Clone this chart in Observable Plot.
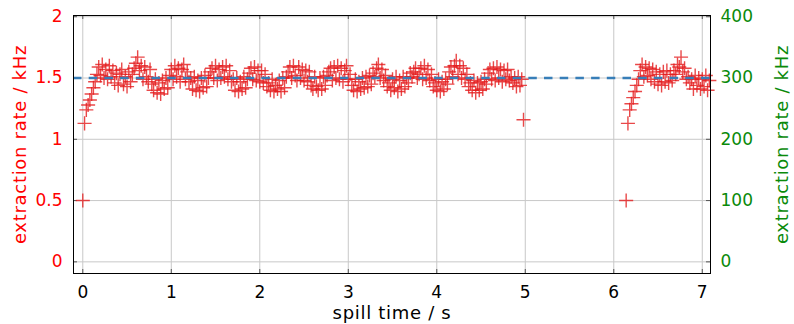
<!DOCTYPE html>
<html><head><meta charset="utf-8">
<script src="https://cdn.jsdelivr.net/npm/d3@7"></script>
<script src="https://cdn.jsdelivr.net/npm/@observablehq/plot@0.6"></script>
<style>html,body{margin:0;padding:0;background:#fff}</style>
</head><body><div id="chart"></div>
<script>
// spill sampling
const spill1Start = 0.00;
const spill2Start = 6.14;
const sampleStep = 0.02;

// extraction rate (kHz), spill 1 from t = 0.00 s
const spill1Rate = [
  0.50, 1.13, 1.24, 1.28, 1.32, 1.37, 1.42, 1.47, 1.53, 1.59,
  1.52, 1.61, 1.50, 1.57, 1.49, 1.60, 1.51, 1.56, 1.46, 1.54,
  1.44, 1.53, 1.57, 1.45, 1.51, 1.43, 1.55, 1.47, 1.53, 1.58,
  1.62, 1.67, 1.56, 1.60, 1.49, 1.59, 1.51, 1.47, 1.57, 1.45,
  1.40, 1.49, 1.38, 1.46, 1.37, 1.48, 1.41, 1.50, 1.42, 1.52,
  1.57, 1.49, 1.60, 1.51, 1.58, 1.47, 1.57, 1.61, 1.49, 1.55,
  1.47, 1.50, 1.41, 1.51, 1.40, 1.48, 1.39, 1.50, 1.42, 1.52,
  1.43, 1.50, 1.55, 1.58, 1.50, 1.60, 1.48, 1.57, 1.50, 1.59,
  1.51, 1.60, 1.49, 1.56, 1.47, 1.49, 1.40, 1.50, 1.39, 1.47,
  1.41, 1.51, 1.42, 1.49, 1.54, 1.58, 1.49, 1.59, 1.48, 1.56,
  1.47, 1.56, 1.46, 1.53, 1.43, 1.46, 1.40, 1.49, 1.39, 1.44,
  1.41, 1.48, 1.39, 1.50, 1.42, 1.51, 1.55, 1.59, 1.50, 1.60,
  1.52, 1.48, 1.59, 1.50, 1.57, 1.48, 1.56, 1.47, 1.55, 1.44,
  1.41, 1.51, 1.43, 1.40, 1.50, 1.41, 1.51, 1.44, 1.52, 1.55,
  1.58, 1.48, 1.59, 1.50, 1.60, 1.49, 1.58, 1.47, 1.56, 1.60,
  1.49, 1.53, 1.44, 1.40, 1.49, 1.39, 1.47, 1.41, 1.50, 1.42,
  1.51, 1.43, 1.52, 1.45, 1.54, 1.51, 1.58, 1.61, 1.50, 1.57,
  1.48, 1.52, 1.43, 1.46, 1.40, 1.49, 1.42, 1.51, 1.39, 1.48,
  1.41, 1.51, 1.43, 1.50, 1.46, 1.54, 1.51, 1.55, 1.58, 1.50,
  1.53, 1.58, 1.49, 1.60, 1.50, 1.57, 1.48, 1.53, 1.43, 1.46,
  1.40, 1.49, 1.39, 1.47, 1.41, 1.49, 1.45, 1.55, 1.59, 1.51,
  1.60, 1.64, 1.53, 1.60, 1.50, 1.58, 1.49, 1.53, 1.43, 1.46,
  1.40, 1.48, 1.38, 1.46, 1.40, 1.47, 1.41, 1.49, 1.45, 1.54,
  1.57, 1.49, 1.58, 1.48, 1.59, 1.50, 1.57, 1.47, 1.56, 1.49,
  1.57, 1.48, 1.51, 1.46, 1.50, 1.43, 1.51, 1.44, 1.49, 1.16
];

// extraction rate (kHz), spill 2 from t = 6.14 s
const spill2Rate = [
  0.50, 1.13, 1.24, 1.29, 1.34, 1.39, 1.44, 1.49, 1.56, 1.61,
  1.51, 1.59, 1.52, 1.58, 1.49, 1.57, 1.47, 1.55, 1.45, 1.53,
  1.44, 1.55, 1.47, 1.56, 1.46, 1.53, 1.48, 1.56, 1.53, 1.61,
  1.59, 1.67, 1.55, 1.58, 1.49, 1.51, 1.46, 1.49, 1.41, 1.52,
  1.44, 1.50, 1.41, 1.49, 1.43, 1.52, 1.40, 1.48
];

const targetRate = 1.5;
const xTicks = [0, 1, 2, 3, 4, 5, 6, 7];
const yTicks = [0, 0.5, 1, 1.5, 2];
const leftTickLabels = ["0", "0.5", "1", "1.5", "2"];
const rightTickLabels = ["0", "100", "200", "300", "400"];
const xLabel = "spill time / s";
const yLabel = "extraction rate / kHz";

const points = [
  ...spill1Rate.map((v, i) => ({t: spill1Start + i * sampleStep, v})),
  ...spill2Rate.map((v, i) => ({t: spill2Start + i * sampleStep, v}))
];

const W = 794, H = 324, mL = 73, mR = 84, mT = 15, mB = 51;
const innerW = W - mL - mR, innerH = H - mT - mB;
const tick = 4;
const labelStyle = {fontSize: 18, textAnchor: "middle", lineAnchor: "middle"};

const chart = Plot.plot({
  width: W, height: H,
  marginLeft: mL, marginRight: mR, marginTop: mT, marginBottom: mB,
  style: {fontFamily: "DejaVu Sans", fontSize: "17px", background: "white", overflow: "visible"},
  x: {domain: [-0.105, 7.093]},
  y: {domain: [-0.095, 2.01]},
  marks: [
    Plot.gridX(xTicks, {stroke: "#c8c8c8", strokeOpacity: 1, strokeWidth: 1}),
    Plot.gridY(yTicks, {stroke: "#c8c8c8", strokeOpacity: 1, strokeWidth: 1}),
    Plot.tickX(xTicks, {x: d => d, insetTop: innerH - tick, stroke: "#555"}),
    Plot.tickX(xTicks, {x: d => d, insetBottom: innerH - tick, stroke: "#555"}),
    Plot.tickY(yTicks, {y: d => d, insetRight: innerW - tick, stroke: "#555"}),
    Plot.tickY(yTicks, {y: d => d, insetLeft: innerW - tick, stroke: "#555"}),
    Plot.dot(points, {x: "t", y: "v", symbol: "plus", r: 4.6, stroke: "#e41a1c", strokeWidth: 1.4, strokeOpacity: 0.8}),
    Plot.ruleY([targetRate], {stroke: "#377eb8", strokeWidth: 2.5, strokeDasharray: "8.5,7.2"}),
    Plot.frame({stroke: "black", strokeWidth: 1}),
    Plot.axisX(xTicks, {tickSize: 0, tickPadding: 12, label: null, color: "black"}),
    Plot.axisY(yTicks, {anchor: "left", tickSize: 0, tickPadding: 11, label: null, color: "red",
      tickFormat: d => leftTickLabels[yTicks.indexOf(d)]}),
    Plot.axisY(yTicks, {anchor: "right", tickSize: 0, tickPadding: 10, label: null, color: "#0a8a0a",
      tickFormat: d => rightTickLabels[yTicks.indexOf(d)]}),
    Plot.text([yLabel], {...labelStyle, frameAnchor: "left", rotate: -90, dx: -53, fill: "red"}),
    Plot.text([yLabel], {...labelStyle, frameAnchor: "right", rotate: -90, dx: 72, fill: "#0a8a0a"}),
    Plot.text([xLabel], {...labelStyle, frameAnchor: "bottom", dy: 40, fill: "black"})
  ]
});
chart.querySelectorAll("text").forEach(t => {
  const s = t.textContent;
  if (s === yLabel || s === xLabel) t.setAttribute("letter-spacing", "0.7");
});
document.getElementById("chart").appendChild(chart);
</script>
</body></html>
